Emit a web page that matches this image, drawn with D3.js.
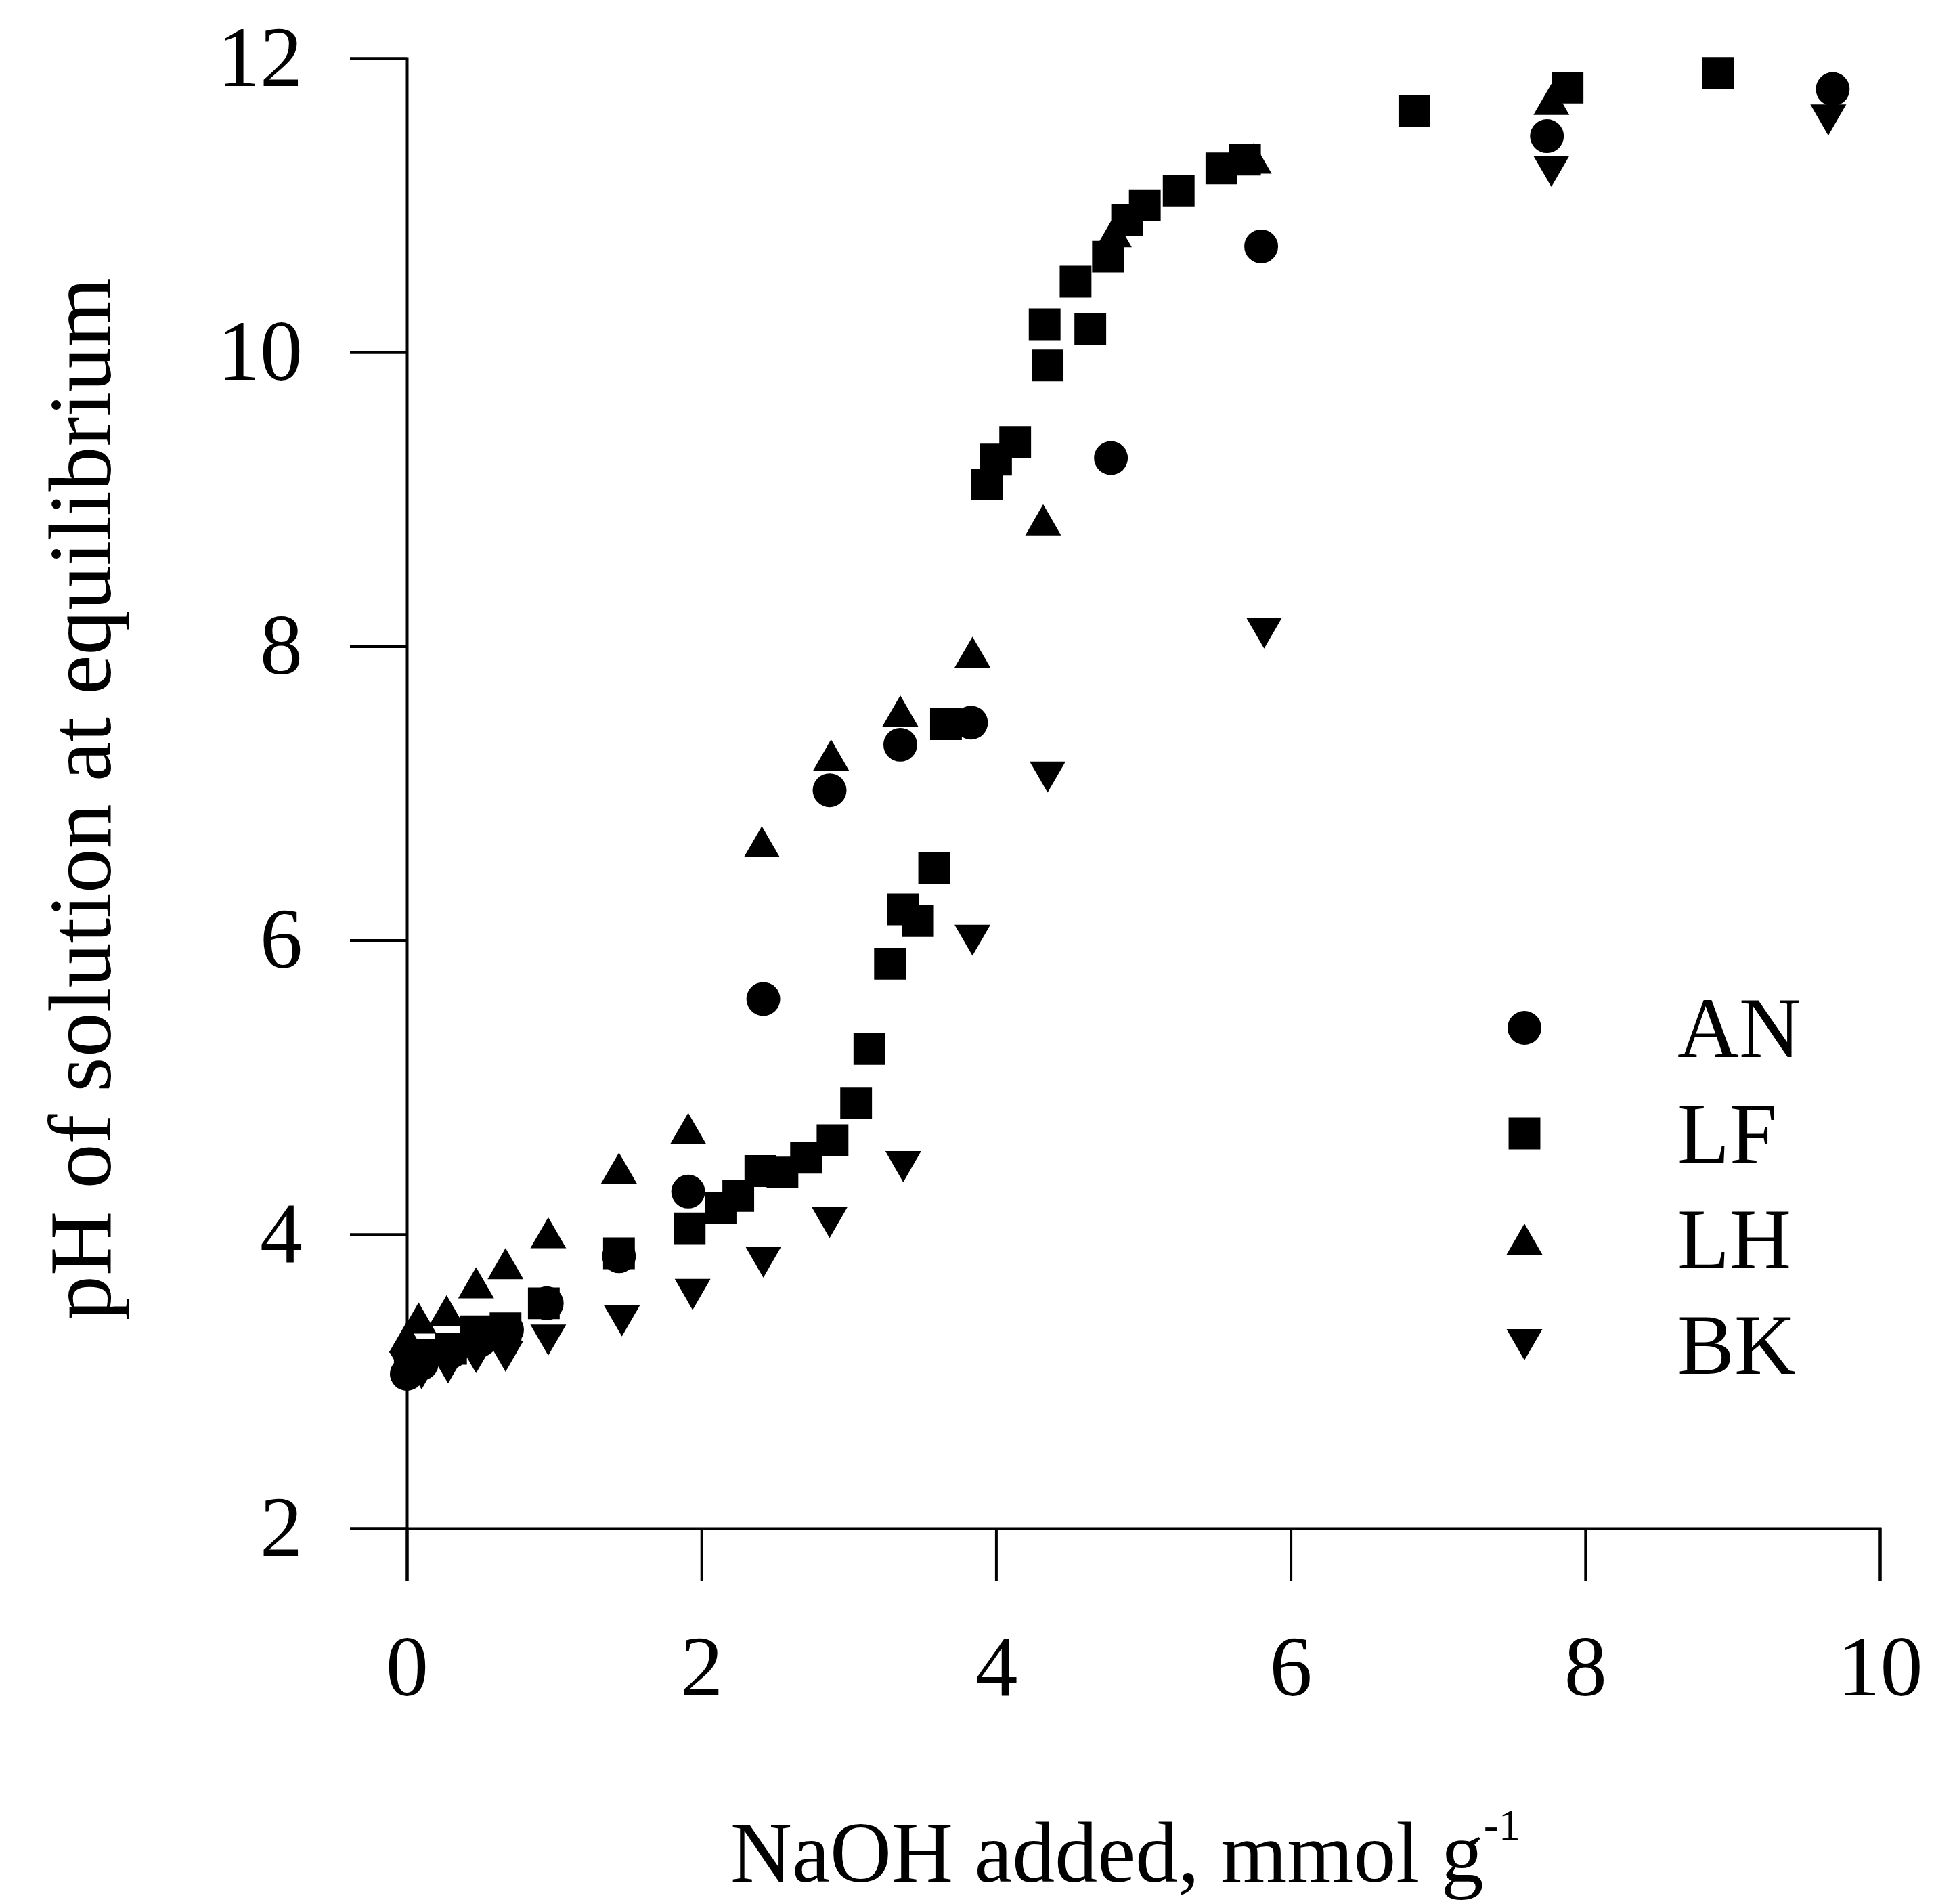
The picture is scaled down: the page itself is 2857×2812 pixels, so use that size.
<!DOCTYPE html>
<html>
<head>
<meta charset="utf-8">
<script src="https://cdn.jsdelivr.net/npm/d3@7"></script>
<style>
  body { margin: 0; background: #fff; }
  svg { display: block; background: #fff; }
  text { font-family: "Liberation Serif", "Times New Roman", serif; fill: #000; }
</style>
</head>
<body>
<svg id="chart" width="2857" height="2812"></svg>
<script>
// NaOH added (mmol/g) and equilibrium pH
var anX = [0, 0.1, 0.3, 0.5, 0.68, 0.95, 1.44, 1.91, 2.42, 2.87, 3.35, 3.83, 4.78, 5.8, 7.74, 9.68];
var anY = [3.05, 3.12, 3.2, 3.28, 3.35, 3.53, 3.85, 4.29, 5.60, 7.02, 7.33, 7.48, 9.28, 10.72, 11.47, 11.79];

var lfX = [0.02, 0.1, 0.3, 0.47, 0.67, 0.93, 1.44, 1.92, 2.13, 2.25, 2.40, 2.55, 2.71, 2.89, 3.05, 3.14, 3.28, 3.37, 3.47, 3.58, 3.66,
           3.94, 4.0, 4.13, 4.33, 4.35, 4.54, 4.64, 4.76, 4.89, 5.01, 5.24, 5.53, 5.69, 6.84, 7.88, 8.9];
var lfY = [3.15, 3.18, 3.22, 3.34, 3.36, 3.53, 3.87, 4.04, 4.18, 4.26, 4.43, 4.42, 4.52, 4.64, 4.89, 5.26, 5.84, 6.21, 6.13, 6.49, 7.47,
           9.10, 9.27, 9.39, 10.19, 9.91, 10.48, 10.16, 10.65, 10.9, 11.0, 11.1, 11.25, 11.31, 11.64, 11.80, 11.90];

var lhX = [0, 0.08, 0.27, 0.47, 0.67, 0.96, 1.44, 1.91, 2.41, 2.88, 3.35, 3.84, 4.32, 4.8, 5.75, 7.77];
var lhY = [3.3, 3.43, 3.48, 3.67, 3.80, 4.01, 4.45, 4.72, 6.67, 7.26, 7.56, 7.96, 8.86, 10.82, 11.32, 11.72];

var bkX = [0, 0.1, 0.28, 0.47, 0.67, 0.96, 1.46, 1.94, 2.42, 2.87, 3.37, 3.84, 4.35, 5.82, 7.77, 9.65];
var bkY = [3.1, 3.05, 3.09, 3.16, 3.17, 3.28, 3.41, 3.59, 3.81, 4.08, 4.46, 6.0, 7.11, 8.09, 11.23, 11.58];

var seriesNames = ["AN", "LF", "LH", "BK"];
var xTicks = [0, 2, 4, 6, 8, 10];
var yTicks = [2, 4, 6, 8, 10, 12];

var series = [
    {name: "AN", xs: anX, ys: anY, shape: "circle"},
    {name: "LF", xs: lfX, ys: lfY, shape: "square"},
    {name: "LH", xs: lhX, ys: lhY, shape: "up"},
    {name: "BK", xs: bkX, ys: bkY, shape: "down"}
];

var svg = d3.select("#chart");
var fontSize = 126;

var x = d3.scaleLinear().domain([0, 10]).range([601, 2777]);
var y = d3.scaleLinear().domain([2, 12]).range([2257, 86]);

// symbol generators; triangles are shifted so their box centre sits on the point
var triSize = 1217;
var triOff = Math.sqrt(triSize / (Math.sqrt(3) * 3)) / 2;
var sym = {
    circle: d3.symbol().type(d3.symbolCircle).size(1960),
    square: d3.symbol().type(d3.symbolSquare).size(2200),
    up: d3.symbol().type(d3.symbolTriangle).size(triSize),
    down: d3.symbol().type(d3.symbolTriangle).size(triSize)
};
function symTransform(shape, px, py) {
    if (shape === "up") return "translate(" + px + "," + (py + triOff) + ")";
    if (shape === "down") return "translate(" + px + "," + (py - triOff) + ") rotate(180)";
    return "translate(" + px + "," + py + ")";
}

// axes
var xAxis = d3.axisBottom(x).tickValues(xTicks).tickSize(78).tickPadding(80).tickFormat(d3.format("d"));
var yAxis = d3.axisLeft(y).tickValues(yTicks).tickSize(84).tickPadding(70).tickFormat(d3.format("d"));

var gx = svg.append("g")
    .attr("transform", "translate(0," + y(2) + ")")
    .call(xAxis);
var gy = svg.append("g")
    .attr("transform", "translate(" + x(0) + ",0)")
    .call(yAxis);

[gx, gy].forEach(function (g) {
    g.attr("font-family", null).attr("font-size", null);
    g.selectAll("path, line").attr("stroke", "#000").attr("stroke-width", 4);
    g.selectAll("text").style("font-size", fontSize + "px");
});

// points
var pts = svg.append("g");
series.forEach(function (s) {
    pts.selectAll(null)
        .data(d3.zip(s.xs, s.ys))
        .enter()
        .append("path")
        .attr("d", sym[s.shape])
        .attr("fill", "#000")
        .attr("transform", function (d) { return symTransform(s.shape, x(d[0]), y(d[1])); });
});

// legend
var legend = svg.append("g");
var legY = d3.scalePoint().domain(seriesNames).range([1518, 1986]);
series.forEach(function (s) {
    legend.append("path")
        .attr("d", sym[s.shape])
        .attr("fill", "#000")
        .attr("transform", symTransform(s.shape, 2252, legY(s.name)));
    legend.append("text")
        .attr("x", 2478)
        .attr("y", legY(s.name))
        .attr("dy", "0.34em")
        .style("font-size", fontSize + "px")
        .text(s.name);
});

// axis titles
var xt = svg.append("text")
    .attr("x", 1079)
    .attr("y", 2779)
    .style("font-size", fontSize + "px")
    .text("NaOH added, mmol g");
xt.append("tspan")
    .attr("dy", -62)
    .style("font-size", "66px")
    .text("-1");

svg.append("text")
    .attr("transform", "translate(163,1180) rotate(-90)")
    .attr("text-anchor", "middle")
    .style("font-size", "132px")
    .text("pH of solution at equilibrium");
</script>
</body>
</html>
